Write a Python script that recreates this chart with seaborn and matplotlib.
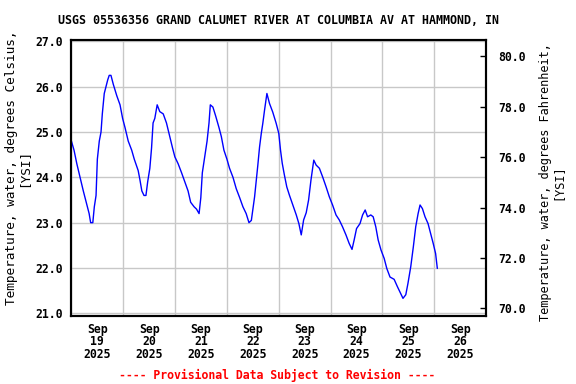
import matplotlib
matplotlib.use("Agg")
import matplotlib.pyplot as plt
import matplotlib.dates as mdates
from matplotlib.ticker import FixedLocator, FormatStrFormatter
import seaborn as sns
import pandas as pd

# hours since 2025-09-19 00:00 and water temperature (deg C)
hours = [0.0, 1.2, 2.5, 4.0, 5.5, 7.1, 8.2, 8.9, 9.9, 10.6, 11.4, 12.0, 12.9, 13.7,
         14.3, 15.2, 16.0, 16.8, 17.5, 18.3, 19.4, 21.0, 22.5, 23.7, 24.8, 26.3,
         27.9, 29.1, 30.9, 31.7, 32.6, 33.6, 34.5, 35.3, 36.3, 37.1, 37.8, 38.6,
         39.7, 40.9, 42.5, 44.0, 45.5, 46.8, 47.9, 49.4, 51.0, 52.5, 54.0, 55.2,
         56.8, 57.9, 59.1, 59.9, 60.6, 61.7, 62.8, 63.7, 64.3, 65.5, 66.8, 68.3,
         69.4, 70.6, 72.0, 73.2, 74.8, 76.3, 77.9, 79.4, 80.9, 82.2, 83.3, 84.0,
         84.8, 85.6, 86.3, 87.1, 87.9, 88.6, 89.4, 90.5, 91.7, 93.2, 94.8, 96.0,
         96.8, 97.6, 98.6, 99.7, 100.9, 102.5, 104.1, 105.3, 106.4, 107.5, 108.7,
         109.8, 110.9, 112.2, 113.3, 114.8, 116.3, 117.9, 119.4, 120.9, 122.5,
         124.0, 125.5, 127.1, 128.6, 129.9, 130.9, 132.0, 133.6, 134.8, 136.0,
         137.1, 138.6, 139.7, 140.9, 142.0, 143.3, 144.8, 146.0, 147.5, 149.4,
         150.9, 152.5, 153.5, 154.8, 155.8, 157.1, 158.3, 159.4, 160.5, 161.4,
         162.5, 163.7, 165.1, 166.3, 167.5, 168.6, 169.4]
temp_c = [24.8, 24.6, 24.3, 24.0, 23.7, 23.4, 23.2, 23.0, 23.0, 23.35, 23.6, 24.4,
          24.8, 25.0, 25.4, 25.85, 26.0, 26.15, 26.25, 26.25, 26.05, 25.8, 25.6,
          25.3, 25.1, 24.8, 24.6, 24.4, 24.15, 23.95, 23.7, 23.6, 23.6, 23.9, 24.2,
          24.65, 25.2, 25.3, 25.6, 25.45, 25.4, 25.2, 24.9, 24.65, 24.45, 24.3,
          24.1, 23.9, 23.7, 23.45, 23.35, 23.3, 23.2, 23.55, 24.1, 24.45, 24.8,
          25.2, 25.6, 25.55, 25.35, 25.1, 24.9, 24.6, 24.4, 24.2, 24.0, 23.75,
          23.55, 23.35, 23.2, 23.0, 23.05, 23.3, 23.57, 23.94, 24.27, 24.67, 24.97,
          25.19, 25.48, 25.85, 25.63, 25.44, 25.19, 24.97, 24.6, 24.31, 24.05,
          23.79, 23.61, 23.39, 23.17, 22.98, 22.73, 23.06, 23.22, 23.5, 23.94,
          24.38, 24.27, 24.2, 24.01, 23.79, 23.57, 23.39, 23.17, 23.06, 22.91,
          22.73, 22.54, 22.41, 22.62, 22.87, 22.98, 23.17, 23.28, 23.13, 23.17,
          23.13, 22.91, 22.62, 22.40, 22.21, 21.99, 21.80, 21.75, 21.59, 21.43,
          21.33, 21.41, 21.66, 22.03, 22.47, 22.91, 23.20, 23.39, 23.31, 23.13,
          22.98, 22.76, 22.54, 22.32, 21.99]

celsius_ticks = [21.0, 22.0, 23.0, 24.0, 25.0, 26.0, 27.0]
fahrenheit_ticks = [70.0, 72.0, 74.0, 76.0, 78.0, 80.0]

title = "USGS 05536356 GRAND CALUMET RIVER AT COLUMBIA AV AT HAMMOND, IN"
footer = "---- Provisional Data Subject to Revision ----"

start = pd.Timestamp("2025-09-19")
df = pd.DataFrame({"time": start + pd.to_timedelta(hours, unit="h"), "temp": temp_c})

sns.set_theme(style="white")
plt.rcParams["font.family"] = ["DejaVu Sans Mono"]
plt.rcParams["font.weight"] = "bold"
for key in ("text.color", "axes.labelcolor", "xtick.color", "ytick.color"):
    plt.rcParams[key] = "black"
fs = 8.3

fig = plt.figure(figsize=(5.76, 3.84), dpi=100)
ax = fig.add_axes([0.124, 0.177, 0.72, 0.72])

sns.lineplot(data=df, x="time", y="temp", ax=ax, color="#0000ff", linewidth=1.0)

c_lo, c_hi = 20.94, 27.04
ax.set_ylim(c_lo, c_hi)
ax.set_xlim(start, start + pd.Timedelta(days=8))

ax.yaxis.set_major_locator(FixedLocator(celsius_ticks))
ax.yaxis.set_major_formatter(FormatStrFormatter("%.1f"))
ax.xaxis.set_major_locator(mdates.DayLocator())
ax.xaxis.set_major_formatter(plt.NullFormatter())
ax.xaxis.set_minor_locator(mdates.HourLocator(byhour=12))
ax.xaxis.set_minor_formatter(mdates.DateFormatter("%b\n%d\n%Y"))
ax.tick_params(axis="x", which="both", length=0, pad=5, labelsize=fs)
ax.tick_params(axis="y", length=0, pad=6, labelsize=fs)
for lab in ax.xaxis.get_minorticklabels():
    lab.set_linespacing(0.95)

ax.grid(True, color="#c8c8c8", linewidth=1.0)
ax.set_xlabel("")
ax.set_ylabel("Temperature, water, degrees Celsius,\n[YSI]", fontsize=9.2,
              linespacing=0.95)
ax.yaxis.set_label_coords(-0.099, 0.535)
ax.set_title(title, fontsize=8.4, fontweight="bold", pad=11)

ax2 = ax.twinx()
ax2.set_ylim(c_lo * 9 / 5 + 32, c_hi * 9 / 5 + 32)
ax2.yaxis.set_major_locator(FixedLocator(fahrenheit_ticks))
ax2.yaxis.set_major_formatter(FormatStrFormatter("%.1f"))
ax2.tick_params(axis="y", direction="in", length=4, width=1, pad=9, labelsize=fs, right=True)
ax2.set_ylabel("Temperature, water, degrees Fahrenheit,\n[YSI]", fontsize=8.6,
               linespacing=0.95)
ax2.yaxis.set_label_coords(1.128, 0.485)

for a in (ax, ax2):
    for sp in a.spines.values():
        sp.set_color("black")
        sp.set_linewidth(1.5)

fig.text(0.481, 0.013, footer, color="red", fontsize=fs, fontweight="bold", ha="center")

fig.savefig("out.png", dpi=100)
